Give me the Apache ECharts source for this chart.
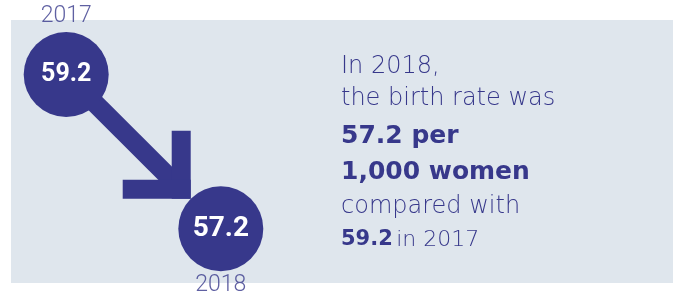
<!DOCTYPE html>
<html>
<head>
<meta charset="utf-8">
<script src="https://cdn.jsdelivr.net/npm/echarts@6/dist/echarts.min.js"></script>
<style>
  html, body { margin: 0; padding: 0; background: #fff; }
  #main { width: 680px; height: 302px; }
</style>
</head>
<body>
<div id="main"></div>
<script>
// data
const years = ['2017', '2018'];
const rates = [59.2, 57.2];
const unitText = ['per', '1,000 women'];

const navy = '#37388b';
const textFont = 'DejaVu Sans';

let myChart = echarts.init(document.getElementById('main'));

// arrow from the 2017 circle to the 2018 circle
function renderArrow(params, api) {
  const a = api.coord([api.value(0), api.value(1)]);
  const b = api.coord([api.value(2), api.value(3)]);
  const len = Math.hypot(b[0] - a[0], b[1] - a[1]);
  const ux = (b[0] - a[0]) / len, uy = (b[1] - a[1]) / len;
  const r = 42.5, w = 19, arm = 68;
  // outer corner of the arrow head sits on the edge of the second circle
  const cx = b[0] - ux * r, cy = b[1] - uy * r;
  return {
    type: 'group',
    children: [
      { type: 'line', shape: { x1: a[0], y1: a[1], x2: cx - ux * 11, y2: cy - uy * 11 },
        style: { stroke: navy, lineWidth: w } },
      { type: 'rect', shape: { x: cx - w, y: cy - arm, width: w, height: arm }, style: { fill: navy } },
      { type: 'rect', shape: { x: cx - arm, y: cy - w, width: arm, height: w }, style: { fill: navy } }
    ]
  };
}

const points = rates.map((v, i) => [i, v]);

let option = {
  animation: false,
  grid: { left: 66.2, top: 74.5, width: 154.6, height: 154.2 },
  xAxis: { type: 'value', min: 0, max: 1, show: false },
  yAxis: { type: 'value', min: rates[1], max: rates[0], show: false },
  graphic: [
    { type: 'rect', z: -10, shape: { x: 11, y: 20, width: 662, height: 263 }, style: { fill: '#dfe6ed' } },
    { type: 'text', x: 341, y: 67, style: { text: 'In ' + years[1] + ',', font: '200 24px "' + textFont + '"', fill: navy, verticalAlign: 'middle' } },
    { type: 'text', x: 341, y: 99, style: { text: 'the birth rate was', font: '200 24px "' + textFont + '"', fill: navy, verticalAlign: 'middle' } },
    { type: 'text', x: 341, y: 136, style: { text: rates[1] + ' ' + unitText[0], font: 'bold 25px "' + textFont + '"', fill: navy, verticalAlign: 'middle' } },
    { type: 'text', x: 341, y: 172, style: { text: unitText[1], font: 'bold 25px "' + textFont + '"', fill: navy, verticalAlign: 'middle' } },
    { type: 'text', x: 341, y: 207, style: { text: 'compared with', font: '200 24px "' + textFont + '"', fill: navy, verticalAlign: 'middle' } },
    { type: 'text', x: 341, y: 240, style: {
        text: '{b|' + rates[0] + '} {l|in ' + years[0] + '}', verticalAlign: 'middle',
        rich: {
          b: { fontFamily: textFont, fontWeight: 'bold', fontSize: 21, fill: navy },
          l: { fontFamily: textFont, fontWeight: 200, fontSize: 22, fill: navy }
        }
    } }
  ],
  series: [
    {
      type: 'custom',
      z: 2,
      silent: true,
      renderItem: renderArrow,
      data: [[0, rates[0], 1, rates[1]]]
    },
    {
      type: 'scatter',
      z: 3,
      symbolSize: 85,
      itemStyle: { color: navy, opacity: 1 },
      label: {
        show: true,
        position: 'inside',
        color: '#fff',
        fontFamily: 'Roboto',
        fontWeight: 'bold',
        formatter: p => p.value[1].toFixed(1)
      },
      data: points.map((p, i) => ({ value: p, label: { fontSize: i === 0 ? 25 : 28 } }))
    },
    {
      type: 'scatter',
      z: 4,
      symbolSize: 1,
      itemStyle: { color: 'rgba(0,0,0,0)' },
      label: {
        show: true,
        position: 'inside',
        color: navy,
        fontFamily: 'Roboto',
        fontWeight: 300,
        fontSize: 23,
        formatter: p => years[p.dataIndex]
      },
      data: points.map((p, i) => ({ value: p, label: { offset: [0, i === 0 ? -58 : 57] } }))
    }
  ]
};

myChart.setOption(option);
</script>
</body>
</html>
